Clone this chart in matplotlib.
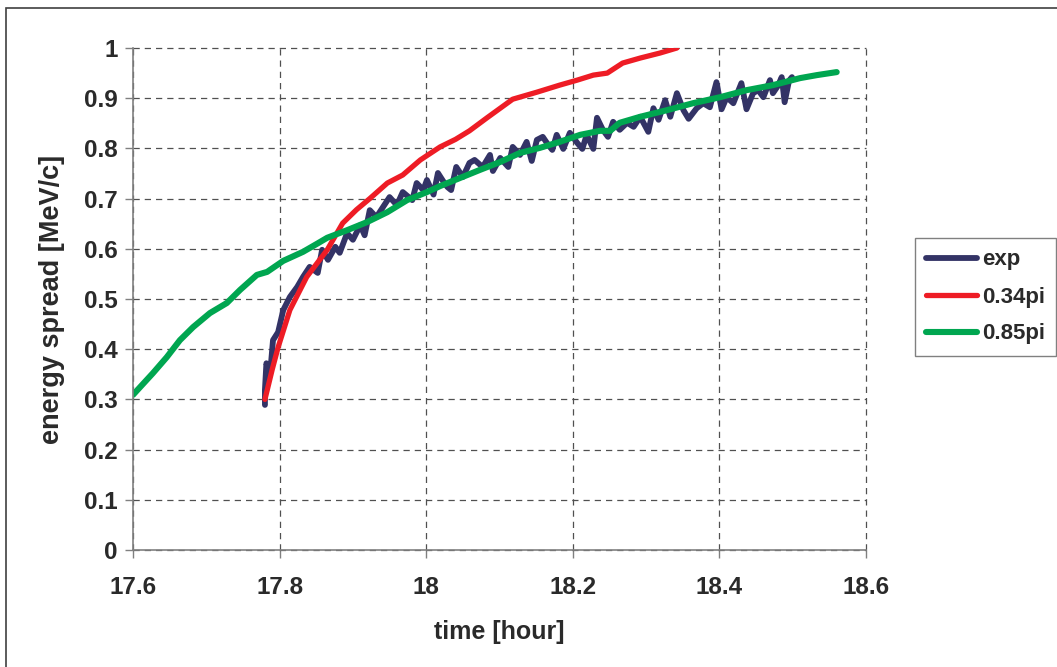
import matplotlib
matplotlib.use("Agg")
import matplotlib.pyplot as plt
from matplotlib.patches import Rectangle

plt.rcParams['font.family'] = ['Liberation Sans', 'DejaVu Sans']
plt.rcParams['font.weight'] = 'bold'

# measured energy spread (exp)
t_exp = [17.780, 17.780, 17.782, 17.787, 17.791, 17.798, 17.805, 17.814, 17.824, 17.832,
         17.841, 17.852, 17.858, 17.866, 17.876, 17.882, 17.892, 17.900, 17.910, 17.916,
         17.923, 17.932, 17.941, 17.950, 17.960, 17.968, 17.981, 17.987, 17.996, 18.001,
         18.010, 18.016, 18.023, 18.029, 18.034, 18.041, 18.050, 18.059, 18.066, 18.077,
         18.087, 18.091, 18.101, 18.112, 18.118, 18.128, 18.137, 18.144, 18.151, 18.159,
         18.166, 18.172, 18.178, 18.187, 18.196, 18.206, 18.213, 18.219, 18.228, 18.233,
         18.241, 18.248, 18.255, 18.264, 18.274, 18.283, 18.292, 18.303, 18.310, 18.317,
         18.326, 18.333, 18.342, 18.351, 18.358, 18.369, 18.378, 18.387, 18.396, 18.403,
         18.410, 18.419, 18.430, 18.437, 18.446, 18.453, 18.460, 18.469, 18.473, 18.480,
         18.485, 18.489, 18.495, 18.499]
e_exp = [0.289, 0.319, 0.372, 0.350, 0.418, 0.434, 0.478, 0.504, 0.524, 0.544,
         0.564, 0.552, 0.598, 0.578, 0.604, 0.592, 0.631, 0.618, 0.647, 0.627,
         0.677, 0.663, 0.683, 0.703, 0.687, 0.713, 0.697, 0.731, 0.717, 0.737,
         0.708, 0.751, 0.735, 0.723, 0.717, 0.763, 0.743, 0.771, 0.777, 0.763,
         0.787, 0.755, 0.781, 0.763, 0.803, 0.787, 0.813, 0.775, 0.817, 0.823,
         0.808, 0.797, 0.827, 0.799, 0.831, 0.811, 0.799, 0.827, 0.799, 0.861,
         0.837, 0.823, 0.853, 0.837, 0.851, 0.843, 0.863, 0.833, 0.880, 0.857,
         0.896, 0.863, 0.910, 0.876, 0.859, 0.880, 0.890, 0.882, 0.932, 0.878,
         0.902, 0.890, 0.930, 0.878, 0.910, 0.916, 0.902, 0.936, 0.910, 0.925,
         0.942, 0.892, 0.935, 0.942]

# simulation, 0.34pi
t_034 = [17.780, 17.790, 17.798, 17.814, 17.837, 17.865, 17.886, 17.905, 17.923, 17.947,
         17.968, 17.992, 18.019, 18.040, 18.059, 18.083, 18.118, 18.151, 18.182, 18.206,
         18.228, 18.247, 18.268, 18.292, 18.319, 18.342]
e_034 = [0.300, 0.360, 0.404, 0.478, 0.544, 0.598, 0.651, 0.678, 0.700, 0.731,
         0.747, 0.777, 0.803, 0.818, 0.835, 0.861, 0.898, 0.912, 0.926, 0.936,
         0.946, 0.950, 0.970, 0.980, 0.990, 1.000]

# simulation, 0.85pi
t_085 = [17.600, 17.610, 17.627, 17.646, 17.664, 17.682, 17.705, 17.728, 17.746, 17.769,
         17.783, 17.805, 17.832, 17.851, 17.865, 17.892, 17.919, 17.947, 17.974, 18.001,
         18.019, 18.046, 18.073, 18.101, 18.128, 18.155, 18.182, 18.210, 18.237, 18.251,
         18.264, 18.292, 18.328, 18.364, 18.401, 18.437, 18.473, 18.510, 18.533, 18.560]
e_085 = [0.309, 0.325, 0.352, 0.384, 0.418, 0.444, 0.472, 0.492, 0.518, 0.548,
         0.554, 0.576, 0.594, 0.610, 0.622, 0.637, 0.653, 0.673, 0.697, 0.713,
         0.725, 0.741, 0.757, 0.773, 0.791, 0.801, 0.813, 0.827, 0.835, 0.835,
         0.851, 0.863, 0.876, 0.890, 0.902, 0.916, 0.926, 0.940, 0.946, 0.952]

xticks = [17.6, 17.8, 18.0, 18.2, 18.4, 18.6]
xticklabels = ['17.6', '17.8', '18', '18.2', '18.4', '18.6']
yticks = [0, 0.1, 0.2, 0.3, 0.4, 0.5, 0.6, 0.7, 0.8, 0.9, 1.0]
yticklabels = ['0', '0.1', '0.2', '0.3', '0.4', '0.5', '0.6', '0.7', '0.8', '0.9', '1']

W, H = 1057, 667
fig = plt.figure(figsize=(W / 100, H / 100), dpi=100)
ax = fig.add_axes([133 / W, 1 - 550 / H, (866 - 133) / W, (550 - 48) / H])

style = dict(solid_joinstyle='round', solid_capstyle='round')
ax.plot(t_exp, e_exp, color='#333366', lw=4.2, label='exp', **style)
ax.plot(t_034, e_034, color='#ee1c25', lw=3.8, label='0.34pi', **style)
ax.plot(t_085, e_085, color='#00a650', lw=4.4, label='0.85pi', **style)

ax.set_xlim(17.6, 18.6)
ax.set_ylim(0, 1)
ax.set_xticks(xticks)
ax.set_xticklabels(xticklabels)
ax.set_yticks(yticks)
ax.set_yticklabels(yticklabels)
ax.tick_params(direction='out', length=6, width=1, color='#808080',
               labelsize=17.5, labelcolor='#2a2a2a')
ax.tick_params(axis='x', pad=13)
ax.tick_params(axis='y', pad=5)

ax.grid(True, color='#505050', linestyle=(0, (5, 4)), lw=0.9)
ax.set_axisbelow(True)
for gl in ax.get_xgridlines() + ax.get_ygridlines():
    gl.set_clip_on(False)
for side in ['top', 'right']:
    ax.spines[side].set_visible(False)
for side in ['left', 'bottom']:
    ax.spines[side].set_color('#808080')
    ax.spines[side].set_linewidth(1.2)

ax.set_xlabel('time [hour]', fontsize=18, fontweight='bold', color='#2a2a2a', labelpad=15)
ax.set_ylabel('energy spread [MeV/c]', fontsize=19.5, fontweight='bold', color='#2a2a2a',
              labelpad=14)

leg = fig.legend(loc='center left', bbox_to_anchor=(915 / W, 1 - 297 / H),
                 fontsize=16, frameon=True, fancybox=False, handlelength=2.3,
                 handletextpad=0.2, borderpad=0.5, labelspacing=0.72,
                 borderaxespad=0)
leg.get_frame().set_edgecolor('#606060')
leg.get_frame().set_linewidth(1.0)
for txt in leg.get_texts():
    txt.set_color('#2a2a2a')

# outer chart frame (runs off the right and bottom edges)
fig.patches.append(Rectangle((6 / W, -0.1), 2, 1 - 8 / H + 0.1, transform=fig.transFigure,
                             fill=False, edgecolor='#404040', lw=1.2))

fig.savefig('out.png', dpi=100)
